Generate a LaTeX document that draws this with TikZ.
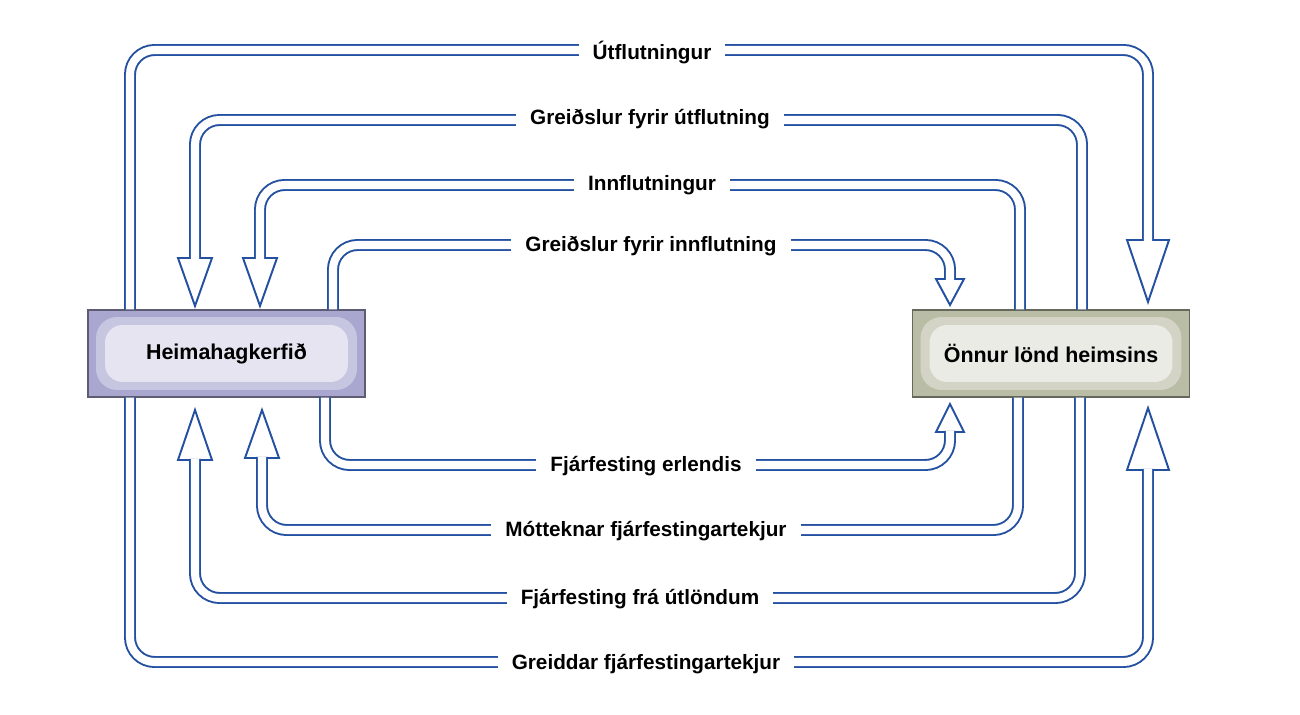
\documentclass[tikz,border=0pt]{standalone}
\usepackage{fontspec}
\setmainfont{Liberation Sans}
\definecolor{pipeblue}{HTML}{2350A0}
\definecolor{domedge}{HTML}{A9A7D0}
\definecolor{domin}{HTML}{E6E4F1}
\definecolor{rowedge}{HTML}{BABDA6}
\definecolor{rowin}{HTML}{EBEBE5}
\tikzset{
	pipe/.style={draw=pipeblue,line width=1.1pt,double=white,double distance=4.6pt,rounded corners=14pt},
	head/.style={draw=pipeblue,line width=1.1pt,fill=white,line join=miter},
	lbl/.style={fill=white,inner xsep=8pt,inner ysep=3pt,font=\fontsize{11.8}{14}\selectfont\bfseries},
	box/.style 2 args={draw=#1!55!black,line width=0.8pt,fill=#1,minimum width=5.54cm,minimum height=1.74cm,
		font=\fontsize{12.2}{14}\selectfont\bfseries,
		path picture={
			\fill[#2!50!#1,rounded corners=12pt] ([shift={(0.16cm,-0.14cm)}]path picture bounding box.north west) rectangle ([shift={(-0.16cm,0.14cm)}]path picture bounding box.south east);
			\fill[#2,rounded corners=10pt] ([shift={(0.34cm,-0.3cm)}]path picture bounding box.north west) rectangle ([shift={(-0.34cm,0.3cm)}]path picture bounding box.south east);}}
}
\begin{document}
\begin{tikzpicture}[x=0.02cm,y=-0.02cm]
\useasboundingbox (0,0) rectangle (1300,715);
% boxes
\node[box={domedge}{domin}] (dom) at (226.5,353.5) {Heimahagkerfið};
\node[box={rowedge}{rowin}] (row) at (1051,353.5) {Önnur lönd heimsins};
% heads (top)
\draw[head] (1127,240) -- (1148,302) -- (1169,240) -- cycle;
\draw[head] (178,258) -- (195,306) -- (212,258) -- cycle;
\draw[head] (243,258) -- (260,306) -- (277,258) -- cycle;
\draw[head] (936,279) -- (950,305) -- (964,279) -- cycle;
% heads (bottom)
\draw[head] (936,432) -- (950,404) -- (964,432) -- cycle;
\draw[head] (245,458) -- (262,410) -- (279,458) -- cycle;
\draw[head] (178,460) -- (195,410) -- (212,460) -- cycle;
\draw[head] (1127,470) -- (1148,408) -- (1169,470) -- cycle;
% free ends
\coordinate (t1) at (1148,241);
\coordinate (t2) at (195,259);
\coordinate (t3) at (260,259);
\coordinate (t4) at (950,280);
\coordinate (b5) at (950,431);
\coordinate (b6) at (262,457);
\coordinate (b7) at (195,459);
\coordinate (b8) at (1148,469);
% pipes
\draw[pipe] (dom.north west -| 130,0) -- (130,50) -- (1148,50) -- (t1);
\draw[pipe] (row.north west -| 1082,0) -- (1082,120) -- (195,120) -- (t2);
\draw[pipe] (row.north west -| 1020,0) -- (1020,185) -- (260,185) -- (t3);
\draw[pipe] (dom.north west -| 333,0) -- (333,245) -- (950,245) -- (t4);
\draw[pipe] (dom.south west -| 325,0) -- (325,465) -- (950,465) -- (b5);
\draw[pipe] (row.south west -| 1018,0) -- (1018,530) -- (262,530) -- (b6);
\draw[pipe] (row.south west -| 1080,0) -- (1080,598) -- (195,598) -- (b7);
\draw[pipe] (dom.south west -| 130,0) -- (130,662) -- (1148,662) -- (b8);
% labels
\node[lbl] (l1) at (652,53) {Útflutningur};
\node[lbl] (l2) at (650,119) {Greiðslur fyrir útflutning};
\node[lbl] (l3) at (652,185) {Innflutningur};
\node[lbl] (l4) at (651,246) {Greiðslur fyrir innflutning};
\node[lbl] (l5) at (646,466) {Fjárfesting erlendis};
\node[lbl] (l6) at (646,531) {Mótteknar fjárfestingartekjur};
\node[lbl] (l7) at (640,599) {Fjárfesting frá útlöndum};
\node[lbl] (l8) at (646,664) {Greiddar fjárfestingartekjur};
\end{tikzpicture}
\end{document}
